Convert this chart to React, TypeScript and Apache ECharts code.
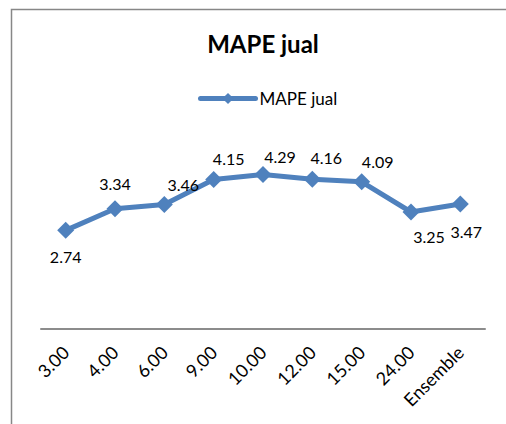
import React, { useEffect, useRef } from "react";
import * as echarts from "echarts";

const categories = ["3.00", "4.00", "6.00", "9.00", "10.00", "12.00", "15.00", "24.00", "Ensemble"];
const mapeJual = [2.74, 3.34, 3.46, 4.15, 4.29, 4.16, 4.09, 3.25, 3.47];
const labelOffsets: [number, number][] = [
  [0, 26], [0, -25], [19, -20], [15, -21], [17, -18], [14, -22], [16, -20], [18, 24], [6, 27],
];

export default function App() {
  const ref = useRef<HTMLDivElement>(null);
  useEffect(() => {
    if (!ref.current) return;
    const chart = echarts.init(ref.current, null, { renderer: "svg" });
    const font = "Lato, 'Open Sans', sans-serif";
    chart.setOption({
      animation: false,
      backgroundColor: "#ffffff",
      title: {
        text: "MAPE jual",
        left: 263,
        top: 31,
        padding: 0,
        textAlign: "center",
        textStyle: { fontFamily: font, fontWeight: "bold", fontSize: 24, color: "#000" },
      },
      legend: {
        left: 198,
        top: 90,
        padding: 0,
        itemWidth: 55,
        itemHeight: 14,
        itemGap: 4,
        lineStyle: { width: 5, cap: "round" },
        textStyle: { fontFamily: font, fontSize: 17, color: "#000", padding: [0, 0, 0, -1] },
        data: ["MAPE jual"],
      },
      graphic: [
        {
          type: "rect",
          shape: { x: 11.5, y: 9.5, width: 700, height: 700 },
          style: { fill: "none", stroke: "#878787", lineWidth: 1.5 },
          silent: true,
        },
      ],
      grid: { left: 41, right: 21, top: 149, bottom: 95 },
      xAxis: {
        type: "category",
        data: categories,
        boundaryGap: true,
        axisLine: { lineStyle: { color: "#8c8c8c", width: 2 } },
        axisTick: { show: false },
        axisLabel: {
          rotate: 45,
          margin: 20,
          interval: 0,
          fontFamily: font,
          fontSize: 18,
          color: "#000",
        },
      },
      yAxis: {
        type: "value",
        min: 0,
        max: 5,
        show: false,
        splitLine: { show: false },
      },
      series: [
        {
          name: "MAPE jual",
          type: "line",
          data: mapeJual.map((v, i) => ({
            value: v,
            label: {
              show: true,
              position: "inside",
              offset: labelOffsets[i],
            },
          })),
          symbol: "diamond",
          symbolSize: 17,
          itemStyle: { color: "#4F81BD" },
          lineStyle: { color: "#4F81BD", width: 5 },
          label: {
            show: true,
            fontFamily: font,
            fontSize: 16,
            color: "#000",
            formatter: (p: any) => Number(p.value).toFixed(2),
          },
        },
      ],
    });
    return () => chart.dispose();
  }, []);
  return (
    <div
      ref={ref}
      style={{ position: "fixed", left: 0, top: 0, width: 506, height: 424 }}
    />
  );
}
